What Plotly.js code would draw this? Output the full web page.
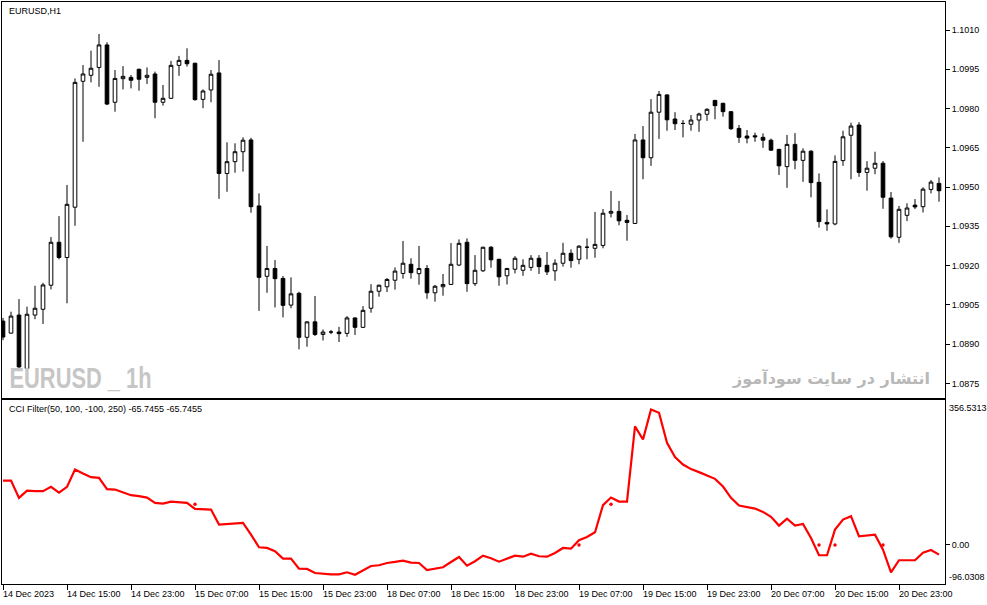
<!DOCTYPE html>
<html><head><meta charset="utf-8">
<script src="https://cdn.plot.ly/plotly-3.0.1.min.js"></script>
<style>html,body{margin:0;padding:0;background:#fff;} #chart{width:987px;height:605px;}</style>
</head><body><div id="chart"></div>
<script>
// ---- data (EURUSD H1, bar 0 = 14 Dec 2023 07:00) ----
const openP = [1.08988,1.08942,1.09011,1.08807,1.09011,1.09033,1.09125,1.09289,1.09231,1.09423,
1.09904,1.09927,1.09957,1.10043,1.09824,1.09914,1.09919,1.09950,1.09919,1.09932,
1.09824,1.09839,1.09965,1.09984,1.09973,1.09835,1.09871,1.09936,1.09552,1.09597,
1.09635,1.09680,1.09428,1.09159,1.09189,1.09151,1.09049,1.09094,1.08926,1.08985,
1.08937,1.08946,1.08946,1.08941,1.09000,1.08964,1.09037,1.09102,1.09119,1.09144,
1.09170,1.09205,1.09169,1.09189,1.09096,1.09119,1.09128,1.09202,1.09289,1.09131,
1.09180,1.09270,1.09224,1.09161,1.09186,1.09182,1.09193,1.09228,1.09201,1.09180,
1.09209,1.09247,1.09224,1.09270,1.09266,1.09277,1.09400,1.09407,1.09373,1.09361,
1.09680,1.09612,1.09786,1.09852,1.09760,1.09743,1.09740,1.09756,1.09778,1.09831,
1.09820,1.09788,1.09724,1.09695,1.09696,1.09690,1.09679,1.09644,1.09578,1.09663,
1.09602,1.09637,1.09518,1.09365,1.09359,1.09601,1.09698,1.09737,1.09556,1.09572,
1.09591,1.09458,1.09308,1.09392,1.09431,1.09425,1.09491,1.09514];
const highP = [1.09000,1.09024,1.09072,1.09043,1.09123,1.09134,1.09309,1.09389,1.09508,1.09915,
1.09966,1.10021,1.10085,1.10053,1.09947,1.09962,1.09928,1.09952,1.09957,1.09941,
1.09890,1.09982,1.10001,1.10030,1.09975,1.09873,1.09947,1.09985,1.09671,1.09667,
1.09690,1.09688,1.09476,1.09275,1.09221,1.09160,1.09155,1.09100,1.08987,1.09084,
1.08956,1.08954,1.08966,1.09007,1.09002,1.09045,1.09129,1.09127,1.09152,1.09193,
1.09294,1.09228,1.09275,1.09202,1.09126,1.09168,1.09286,1.09300,1.09304,1.09240,
1.09272,1.09275,1.09226,1.09191,1.09236,1.09224,1.09240,1.09240,1.09252,1.09224,
1.09287,1.09262,1.09278,1.09304,1.09405,1.09416,1.09485,1.09447,1.09393,1.09703,
1.09733,1.09836,1.09867,1.09854,1.09786,1.09756,1.09775,1.09784,1.09801,1.09833,
1.09822,1.09790,1.09737,1.09718,1.09708,1.09705,1.09685,1.09646,1.09699,1.09706,
1.09648,1.09641,1.09552,1.09415,1.09621,1.09715,1.09746,1.09748,1.09599,1.09635,
1.09599,1.09481,1.09428,1.09438,1.09454,1.09499,1.09527,1.09537];
const lowP = [1.08915,1.08940,1.08801,1.08763,1.08995,1.08977,1.09109,1.09224,1.09056,1.09352,
1.09673,1.09900,1.09883,1.09813,1.09788,1.09873,1.09877,1.09868,1.09894,1.09763,
1.09811,1.09837,1.09925,1.09960,1.09830,1.09801,1.09824,1.09455,1.09482,1.09555,
1.09559,1.09402,1.09027,1.09096,1.09040,1.09002,1.09037,1.08880,1.08890,1.08931,
1.08914,1.08938,1.08908,1.08928,1.08935,1.08962,1.09020,1.09081,1.09099,1.09108,
1.09150,1.09150,1.09127,1.09073,1.09062,1.09085,1.09126,1.09198,1.09100,1.09122,
1.09176,1.09192,1.09123,1.09128,1.09170,1.09161,1.09180,1.09168,1.09164,1.09142,
1.09196,1.09192,1.09205,1.09224,1.09230,1.09266,1.09384,1.09354,1.09295,1.09359,
1.09530,1.09581,1.09684,1.09715,1.09718,1.09690,1.09715,1.09711,1.09753,1.09759,
1.09769,1.09718,1.09669,1.09667,1.09673,1.09650,1.09639,1.09546,1.09497,1.09568,
1.09520,1.09461,1.09345,1.09333,1.09354,1.09581,1.09530,1.09539,1.09486,1.09549,
1.09417,1.09303,1.09287,1.09370,1.09416,1.09403,1.09476,1.09444];
const closeP = [1.08927,1.09007,1.08813,1.09014,1.09037,1.09126,1.09289,1.09231,1.09434,1.09900,
1.09932,1.09954,1.10043,1.09817,1.09915,1.09923,1.09908,1.09912,1.09927,1.09824,
1.09839,1.09965,1.09984,1.09971,1.09834,1.09867,1.09931,1.09552,1.09597,1.09635,
1.09679,1.09425,1.09155,1.09189,1.09150,1.09048,1.09092,1.08926,1.08985,1.08937,
1.08946,1.08946,1.08940,1.09000,1.08964,1.09029,1.09102,1.09125,1.09147,1.09179,
1.09209,1.09173,1.09189,1.09096,1.09121,1.09128,1.09205,1.09285,1.09131,1.09182,
1.09270,1.09222,1.09157,1.09189,1.09228,1.09201,1.09228,1.09196,1.09176,1.09209,
1.09247,1.09219,1.09274,1.09270,1.09281,1.09400,1.09407,1.09371,1.09365,1.09680,
1.09612,1.09786,1.09854,1.09757,1.09742,1.09743,1.09756,1.09779,1.09797,1.09811,
1.09788,1.09723,1.09690,1.09687,1.09692,1.09679,1.09641,1.09581,1.09663,1.09602,
1.09637,1.09517,1.09368,1.09359,1.09598,1.09692,1.09733,1.09556,1.09572,1.09591,
1.09461,1.09310,1.09415,1.09420,1.09424,1.09492,1.09519,1.09486];
const cciValues = [158.0,158.0,115.5,133.4,132.0,132.0,142.5,128.5,142.5,185.1,
175.3,166.4,164.7,136.9,135.9,129.5,122.1,119.7,116.2,103.2,
101.5,106.4,105.7,103.2,88.4,86.7,86.7,49.8,51.5,53.3,
54.0,25.2,-5.8,-7.5,-15.6,-33.8,-33.8,-58.4,-59.1,-69.0,
-71.4,-72.2,-72.2,-67.3,-73.2,-63.3,-51.8,-50.0,-44.4,-41.9,
-38.7,-43.6,-44.4,-61.6,-57.4,-55.0,-41.9,-29.6,-51.0,-40.2,
-26.4,-32.8,-41.2,-33.8,-26.4,-28.9,-21.5,-27.9,-28.9,-19.8,
-7.5,-9.2,11.5,19.6,31.1,97.5,116.2,106.4,106.4,290.9,
258.9,332.7,324.6,250.8,215.6,197.4,186.1,178.7,171.3,162.2,
143.3,115.5,96.6,92.6,89.2,81.1,68.8,47.4,64.6,47.4,
51.5,17.1,-25.4,-25.4,37.5,62.1,70.5,21.3,22.8,25.2,
-11.7,-67.3,-37.7,-37.7,-37.7,-19.1,-12.4,-24.0];
const signalBars = [24,72,76,102,104,110];
const signalValues = [100,0,100,0,0,0];
const tickBars = [0,8,16,24,32,40,48,56,64,72,80,88,96,104,112];
const tickLabels = ["14 Dec 2023","14 Dec 15:00","14 Dec 23:00","15 Dec 07:00","15 Dec 15:00","15 Dec 23:00",
"18 Dec 07:00","18 Dec 15:00","18 Dec 23:00","19 Dec 07:00","19 Dec 15:00","19 Dec 23:00",
"20 Dec 07:00","20 Dec 15:00","20 Dec 23:00"];
const priceTicks = [1.0875,1.0890,1.0905,1.0920,1.0935,1.0950,1.0965,1.0980,1.0995,1.1010];
const priceRange = [1.08696,1.10207];
const cciMax = 356.5313, cciMin = -96.0308;
const cciZeroTick = [0];
const symbolTitle = "EURUSD,H1";
const indicatorTitle = "CCI Filter(50, 100, -100, 250) -65.7455 -65.7455";
const watermarkLeft = "EURUSD _ 1h";
const watermarkRight = "انتشار در سایت سودآموز";

// ---- layout ----
const W = 987, H = 605, mL = 2, mR = 42, mT = 2, mB = 21;
const plotH = H - mT - mB;
const fy = y => (H - mB - y) / plotH;
const fx = x => (x - mL) / (W - mL - mR);
const bars = openP.map((_, i) => i);
const xRange = [-0.125, bars.length - 0.25];
const font = {family: "Liberation Sans, Arial, sans-serif", size: 9, color: "#000"};

const traces = [
  {type: "candlestick", x: bars, open: openP, high: highP, low: lowP, close: closeP,
   xaxis: "x", yaxis: "y", whiskerwidth: 0, hoverinfo: "skip", showlegend: false,
   increasing: {line: {color: "#000", width: 1}, fillcolor: "#ffffff"},
   decreasing: {line: {color: "#000", width: 1}, fillcolor: "#000000"}},
  {type: "scatter", mode: "lines", x: bars, y: cciValues, xaxis: "x2", yaxis: "y2",
   line: {color: "#ff0000", width: 2.2}, hoverinfo: "skip", showlegend: false},
  {type: "scatter", mode: "markers", x: signalBars, y: signalValues, xaxis: "x2", yaxis: "y2",
   marker: {color: "#ff0000", size: 3.5}, hoverinfo: "skip", showlegend: false}
];

const axisCommon = {showline: true, mirror: true, linecolor: "#000", linewidth: 1,
  showgrid: false, zeroline: false, fixedrange: true, tickfont: font, tickcolor: "#000"};

const annotations = tickLabels.map((t, k) => ({
  x: tickBars[k], xref: "x2", y: 0, yref: "paper", yanchor: "top", xanchor: "left",
  yshift: -3, xshift: -2, text: t, showarrow: false, font: font
}));
annotations.push(
  {x: fx(7), xref: "paper", y: fy(11), yref: "paper", xanchor: "left", yanchor: "middle",
   text: symbolTitle, showarrow: false, font: font},
  {x: fx(7), xref: "paper", y: fy(409), yref: "paper", xanchor: "left", yanchor: "middle",
   text: indicatorTitle, showarrow: false, font: font},
  {x: 1, xref: "paper", y: cciMax, yref: "y2", xanchor: "left", yanchor: "top", xshift: 2, yshift: -1,
   text: cciMax.toFixed(4), showarrow: false, font: font},
  {x: 1, xref: "paper", y: cciMin, yref: "y2", xanchor: "left", yanchor: "bottom", xshift: 2, yshift: 0,
   text: cciMin.toFixed(4), showarrow: false, font: font},
  {x: fx(80), xref: "paper", y: fy(378), yref: "paper", xanchor: "center", yanchor: "middle",
   text: watermarkLeft, showarrow: false, name: "wmLeft",
   font: {family: "Liberation Sans, Arial, sans-serif", size: 30, weight: "bold", color: "#c6c6c6"}},
  {x: fx(932), xref: "paper", y: fy(378), yref: "paper", xanchor: "right", yanchor: "middle",
   text: watermarkRight, showarrow: false,
   font: {family: "DejaVu Sans, sans-serif", size: 16, weight: "bold", color: "#b8b8b8"}}
);

const layout = {
  width: W, height: H, margin: {l: mL, r: mR, t: mT, b: mB, pad: 0},
  paper_bgcolor: "#fff", plot_bgcolor: "#fff", showlegend: false, boxgap: 0.35,
  xaxis: Object.assign({}, axisCommon, {domain: [0, 1], range: xRange, anchor: "y",
    showticklabels: false, ticks: "", rangeslider: {visible: false}}),
  yaxis: Object.assign({}, axisCommon, {domain: [fy(397.5), 1], range: priceRange, anchor: "x",
    side: "right", tickvals: priceTicks, tickformat: ".4f", ticks: "outside", ticklen: 4}),
  xaxis2: Object.assign({}, axisCommon, {domain: [0, 1], range: xRange, anchor: "y2",
    tickvals: tickBars, showticklabels: false, ticks: "outside", ticklen: 5}),
  yaxis2: Object.assign({}, axisCommon, {domain: [0, fy(399.7)], range: [cciMin, cciMax], anchor: "x2",
    side: "right", tickvals: cciZeroTick, ticktext: ["0.00"], ticks: "outside", ticklen: 4}),
  annotations: annotations
};

const gd = document.getElementById("chart");
Plotly.newPlot(gd, traces, layout, {displayModeBar: false, staticPlot: true}).then(() => {
  // condense the left watermark like the reference's narrow bold face
  gd.querySelectorAll(".annotation-text").forEach(t => {
    if (t.textContent === watermarkLeft) {
      t.setAttribute("textLength", 142);
      t.setAttribute("lengthAdjust", "spacingAndGlyphs");
    }
  });
});
</script>
</body></html>
